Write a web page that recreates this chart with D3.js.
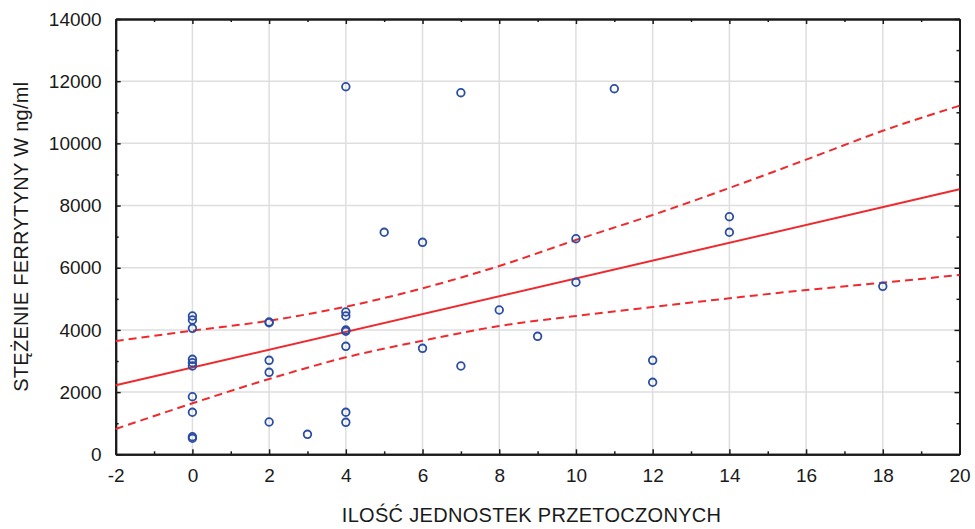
<!DOCTYPE html>
<html>
<head>
<meta charset="utf-8">
<script src="https://cdn.jsdelivr.net/npm/d3@7"></script>
<style>
  body { margin: 0; background: #fff; }
  text { font-family: "Liberation Sans", Arial, sans-serif; fill: #1a1a1a; }
</style>
</head>
<body>
<div id="viz"></div>
<script>
// observations: transfused units (x) vs ferritin (y)
var ptX = [0, 0, 0, 0, 0, 0, 0, 0, 0, 0,
           2, 2, 2, 2, 2,
           3,
           4, 4, 4, 4, 4, 4, 4, 4,
           5, 6, 6, 7, 7, 8, 9, 10, 10, 11, 12, 12, 14, 14, 18];
var ptY = [4448, 4319, 4052, 3055, 2946, 2840, 1852, 1351, 566, 515,
           4255, 4232, 3023, 2637, 1039,
           643,
           11822, 4576, 4448, 3997, 3956, 3473, 1351, 1029,
           7140, 6818, 3409, 11629, 2840, 4641, 3795, 6934, 5532, 11758, 3023, 2316, 7641, 7140, 5403];

// regression line and 95% band
var fitX = [-2, 20];
var fitY = [2219, 8522];
var bandX = [-2, 0, 2, 4, 6, 8, 10, 12, 14, 16, 18, 20];
var upperY = [3644, 3975, 4297, 4747, 5339, 6056, 6892, 7696, 8565, 9476, 10405, 11211];
var lowerY = [814, 1640, 2422, 3119, 3653, 4126, 4448, 4738, 5017, 5284, 5519, 5766];

var xTicks = [-2, 0, 2, 4, 6, 8, 10, 12, 14, 16, 18, 20];
var yTicks = [0, 2000, 4000, 6000, 8000, 10000, 12000, 14000];

var xTitle = 'ILOŚĆ JEDNOSTEK PRZETOCZONYCH';
var yTitle = 'STĘŻENIE FERRYTYNY W ng/ml';

var width = 975,
    height = 529,
    margin = {top: 19, right: 15.5, bottom: 74.7, left: 115.7};

var x = d3.scaleLinear().domain([-2, 20]).range([margin.left, width - margin.right]);
var y = d3.scaleLinear().domain([0, 14000]).range([height - margin.bottom, margin.top]);

var minorX = d3.range(-1, 20, 2);
var minorY = d3.range(1000, 14000, 2000);

// plain hyphen for negatives, like the original
var plain = function (d) { return String(d); };

var svg = d3.select('#viz').append('svg')
    .attr('width', width)
    .attr('height', height);

// grid
svg.append('g').selectAll('line').data(xTicks.slice(1, -1))
    .enter().append('line')
    .attr('x1', function (d) { return x(d); })
    .attr('x2', function (d) { return x(d); })
    .attr('y1', y(0)).attr('y2', y(14000))
    .attr('stroke', '#dedede').attr('stroke-width', 1.5);
svg.append('g').selectAll('line').data(yTicks.slice(1, -1))
    .enter().append('line')
    .attr('y1', function (d) { return y(d); })
    .attr('y2', function (d) { return y(d); })
    .attr('x1', x(-2)).attr('x2', x(20))
    .attr('stroke', '#dedede').attr('stroke-width', 1.5);

// axes, ticks pointing inward on all four sides
function styleAxis(g) {
    g.select('.domain').attr('stroke', '#1a1a1a').attr('stroke-width', 2);
    g.selectAll('.tick line').attr('stroke', '#1a1a1a').attr('stroke-width', 1.5);
    g.selectAll('.tick text').style('font-size', '19px').attr('fill', '#1a1a1a')
        .style('font-family', '"Liberation Sans", Arial, sans-serif');
}

svg.append('g').attr('transform', 'translate(0,' + y(0) + ')')
    .call(d3.axisBottom(x).tickValues(xTicks).tickSize(-5).tickPadding(14).tickSizeOuter(0).tickFormat(plain))
    .call(styleAxis);
svg.append('g').attr('transform', 'translate(0,' + y(0) + ')')
    .call(d3.axisBottom(x).tickValues(minorX).tickSize(-3).tickFormat('').tickSizeOuter(0))
    .call(styleAxis);
svg.append('g').attr('transform', 'translate(0,' + y(14000) + ')')
    .call(d3.axisTop(x).tickValues(xTicks).tickSize(-5).tickFormat('').tickSizeOuter(0))
    .call(styleAxis);
svg.append('g').attr('transform', 'translate(0,' + y(14000) + ')')
    .call(d3.axisTop(x).tickValues(minorX).tickSize(-3).tickFormat('').tickSizeOuter(0))
    .call(styleAxis);

svg.append('g').attr('transform', 'translate(' + x(-2) + ',0)')
    .call(d3.axisLeft(y).tickValues(yTicks).tickSize(-5).tickPadding(14).tickSizeOuter(0).tickFormat(plain))
    .call(styleAxis);
svg.append('g').attr('transform', 'translate(' + x(-2) + ',0)')
    .call(d3.axisLeft(y).tickValues(minorY).tickSize(-3).tickFormat('').tickSizeOuter(0))
    .call(styleAxis);
svg.append('g').attr('transform', 'translate(' + x(20) + ',0)')
    .call(d3.axisRight(y).tickValues(yTicks).tickSize(-5).tickFormat('').tickSizeOuter(0))
    .call(styleAxis);
svg.append('g').attr('transform', 'translate(' + x(20) + ',0)')
    .call(d3.axisRight(y).tickValues(minorY).tickSize(-3).tickFormat('').tickSizeOuter(0))
    .call(styleAxis);

// regression + confidence band
var line = d3.line()
    .x(function (d) { return x(d[0]); })
    .y(function (d) { return y(d[1]); });
var bandLine = d3.line()
    .x(function (d) { return x(d[0]); })
    .y(function (d) { return y(d[1]); })
    .curve(d3.curveMonotoneX);

svg.append('path')
    .attr('d', bandLine(d3.zip(bandX, upperY)))
    .attr('fill', 'none').attr('stroke', '#ee2a2e').attr('stroke-width', 2)
    .attr('stroke-dasharray', '8,5');
svg.append('path')
    .attr('d', bandLine(d3.zip(bandX, lowerY)))
    .attr('fill', 'none').attr('stroke', '#ee2a2e').attr('stroke-width', 2)
    .attr('stroke-dasharray', '8,5');
svg.append('path')
    .attr('d', line(d3.zip(fitX, fitY)))
    .attr('fill', 'none').attr('stroke', '#ee2a2e').attr('stroke-width', 2);

// points
svg.append('g').selectAll('circle').data(d3.zip(ptX, ptY))
    .enter().append('circle')
    .attr('cx', function (d) { return x(d[0]); })
    .attr('cy', function (d) { return y(d[1]); })
    .attr('r', 3.8)
    .attr('fill', 'none')
    .attr('stroke', '#2b4ea3')
    .attr('stroke-width', 1.8);

// titles
svg.append('text')
    .attr('x', (x(-2) + x(20)) / 2 - 6)
    .attr('y', 522)
    .attr('text-anchor', 'middle')
    .style('font-size', '20px')
    .style('letter-spacing', '0.3px')
    .text(xTitle);

svg.append('text')
    .attr('transform', 'translate(21,' + ((y(0) + y(14000)) / 2) + ') rotate(-90)')
    .attr('text-anchor', 'middle')
    .attr('dy', '0.36em')
    .style('font-size', '20px')
    .style('letter-spacing', '0.3px')
    .text(yTitle);
</script>
</body>
</html>
